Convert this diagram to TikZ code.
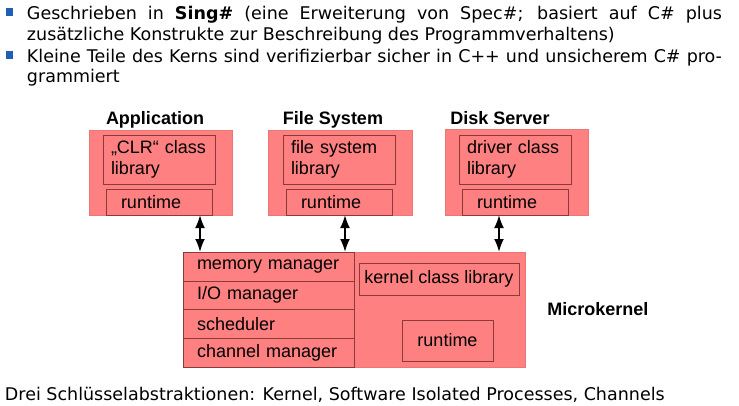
\documentclass[tikz,border=0pt]{standalone}
\usepackage{fontspec}
\setmainfont{Liberation Sans}
\newfontfamily\slidefont{DejaVu Sans}
\usetikzlibrary{positioning,arrows.meta}

\definecolor{boxred}{HTML}{FF8080}
\definecolor{edgered}{HTML}{8A3A3A}
\definecolor{bulletblue}{HTML}{1F5FB5}

\begin{document}
\begin{tikzpicture}[x=1pt, y=-1pt, >={Latex[length=13pt,width=10pt]},
    every node/.style={font=\fontsize{18}{21}\selectfont, outer sep=0pt},
    slidetext/.style={font=\slidefont\fontsize{17.5}{20}\selectfont, inner sep=0pt, anchor=base west},
    bullet/.style={fill=bulletblue, minimum size=7.5pt, inner sep=0pt},
    outerbox/.style={fill=boxred, draw=boxred!92!black, anchor=north west, inner sep=0pt},
    libbox/.style={fill=boxred, draw=edgered, anchor=north west, minimum height=49pt,
        text width=96pt, inner xsep=8pt, align=left},
    rtbox/.style={fill=boxred, draw=edgered, anchor=north west, minimum height=26pt,
        text width=76pt, inner xsep=15pt, align=left},
    cellbox/.style={fill=boxred, draw=edgered, minimum height=28.75pt,
        text width=143pt, inner xsep=14pt, inner ysep=0pt, align=left},
    title/.style={font=\bfseries\fontsize{18}{21}\selectfont, anchor=base}]

    \useasboundingbox (0,0) rectangle (739,405);

    % slide text
    \node[bullet] (b1) at (9.5,12) {};
    \node[slidetext] (t1) at (27,19) {\makebox[695pt][s]{Geschrieben in \textbf{Sing\#} (eine Erweiterung von Spec\#; basiert auf C\# plus}};
    \node[slidetext] (t2) at (27,40) {zusätzliche Konstrukte zur Beschreibung des Programmverhaltens)};
    \node[bullet] (b2) at (9.5,55) {};
    \node[slidetext] (t3) at (27,62) {\makebox[695pt][s]{Kleine Teile des Kerns sind verifizierbar sicher in C++ und unsicherem C\# pro-}};
    \node[slidetext] (t4) at (27,82) {grammiert};
    \node[slidetext] (t5) at (5,400) {Drei Schlüsselabstraktionen: Kernel, Software Isolated Processes, Channels};

    % processes
    \node[outerbox, minimum width=143pt, minimum height=85pt] (app) at (89,130) {};
    \node[libbox, minimum width=112pt] (applib) at (103,135) {„CLR“ class\\library};
    \node[rtbox, minimum width=106pt] (apprt) at (106,189) {runtime};
    \node[title] (apptitle) at (155,124) {Application};

    \node[outerbox, minimum width=144pt, minimum height=85pt] (fs) at (268,130) {};
    \node[libbox, minimum width=110pt] (fslib) at (283,135) {file system\\library};
    \node[rtbox, minimum width=106pt] (fsrt) at (286,189) {runtime};
    \node[title] (fstitle) at (333,124) {File System};

    \node[outerbox, minimum width=143pt, minimum height=86pt] (ds) at (445,129) {};
    \node[libbox, minimum width=112pt] (dslib) at (459,135) {driver class\\library};
    \node[rtbox, minimum width=106pt] (dsrt) at (462,189) {runtime};
    \node[title] (dstitle) at (500,124) {Disk Server};

    % microkernel
    \node[outerbox, minimum width=342pt, minimum height=115pt] (kernel) at (183,252) {};
    \node[cellbox, anchor=north west] (mem) at (183,252) {memory manager};
    \node[cellbox, below=0pt of mem] (io) {I/O manager};
    \node[cellbox, below=0pt of io] (sched) {scheduler};
    \node[cellbox, below=0pt of sched] (chan) {channel manager};
    \node[fill=boxred, draw=edgered, anchor=north west, minimum width=160pt, minimum height=32pt,
        inner sep=0pt] (kcl) at (359,263) {kernel class library};
    \node[fill=boxred, draw=edgered, anchor=north west, minimum width=91pt, minimum height=41pt,
        inner sep=0pt] (krt) at (402,320) {runtime};
    \node[font=\bfseries\fontsize{18}{21}\selectfont, right=19pt of kernel] (mklabel) {Microkernel};

    % channels
    \coordinate (appport) at ([xshift=-32pt]app.south east);
    \coordinate (fsport) at ([xshift=-67pt]fs.south east);
    \coordinate (dsport) at ([xshift=-89pt]ds.south east);
    \draw[<->, line width=2pt] (appport) -- (appport |- kernel.north);
    \draw[<->, line width=2pt] (fsport) -- (fsport |- kernel.north);
    \draw[<->, line width=2pt] (dsport) -- (dsport |- kernel.north);
\end{tikzpicture}
\end{document}
